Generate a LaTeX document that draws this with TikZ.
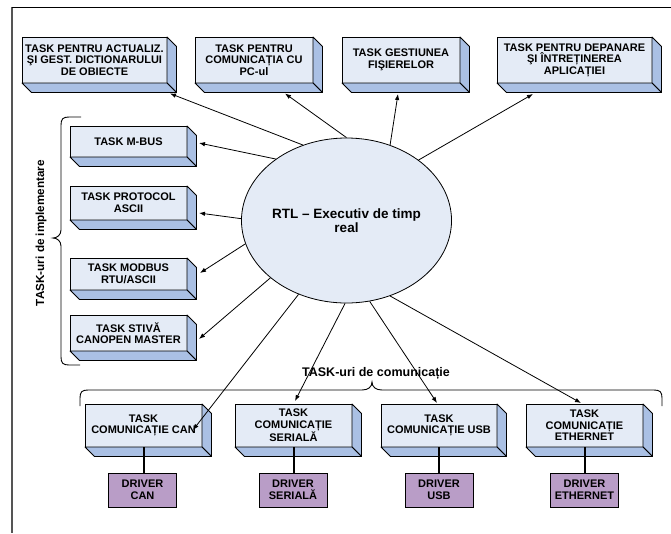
\documentclass[tikz,border=0pt]{standalone}
\usepackage{fontspec}
\setmainfont{Liberation Sans}
\usetikzlibrary{arrows.meta,shapes.geometric,calc}
\definecolor{frontc}{RGB}{228,235,246}
\definecolor{sidec}{RGB}{170,192,228}
\definecolor{drvc}{RGB}{185,157,199}
\definecolor{framec}{RGB}{85,85,85}
\tikzset{
  frontbox/.style={draw=black, fill=frontc, line width=0.8pt, inner sep=0pt, outer sep=0pt, align=center,
    font=\bfseries\fontsize{11}{11.6}\selectfont},
  sideface/.style={draw=black, fill=sidec, line width=0.8pt, line join=round},
  drvbox/.style={draw=black, fill=drvc, line width=0.6pt, inner sep=0pt, outer sep=0pt, align=center,
    minimum width=68pt, minimum height=34pt, font=\bfseries\fontsize{11}{11.6}\selectfont},
  arr/.style={line width=0.8pt, -{Latex[length=6pt,width=4.5pt]}},
  link/.style={line width=2pt},
  bracestyle/.style={line width=0.9pt},
  grouplabel/.style={font=\bfseries\fontsize{12.5}{13}\selectfont, inner sep=0pt}
}
\newcommand{\tdbox}[5]{%
  \node[frontbox, minimum width=#3pt, minimum height=#4pt] (#1) at (#2) {#5};
  \filldraw[sideface] (#1.north east) -- ++(9.5,9.5) -- ($(#1.south east)+(9.5,9.5)$) -- (#1.south east) -- cycle;
  \filldraw[sideface] (#1.south west) -- (#1.south east) -- ++(9.5,9.5) -- ($(#1.south west)+(9.5,9.5)$) -- cycle;
}
\begin{document}
\begin{tikzpicture}[x=1pt,y=-1pt]
\useasboundingbox (0,0) rectangle (671,533);
% frame
\draw[framec, line width=1.5pt] (12,7) -- (12,533);
\draw[black, line width=1pt] (12,7) -- (671,7);

% top boxes
\tdbox{b1}{94.5,60}{145}{46}{TASK PENTRU ACTUALIZ.\\ŞI GEST. DICTIONARULUI\\DE OBIECTE}
\tdbox{b2}{254,60}{118}{46}{TASK PENTRU\\COMUNICAȚIA CU\\PC-ul}
\tdbox{b3}{401,60}{118}{46}{TASK GESTIUNEA\\FIŞIERELOR}
\tdbox{b4}{574.5,60}{155}{46}{TASK PENTRU DEPANARE\\ŞI ÎNTREȚINEREA\\APLICAȚIEI}

% left boxes
\tdbox{m1}{128.5,141.5}{117}{31}{TASK M-BUS}
\tdbox{m2}{128.5,203}{117}{34}{TASK PROTOCOL\\ASCII}
\tdbox{m3}{128.5,274}{117}{32}{TASK MODBUS\\RTU/ASCII}
\tdbox{m4}{128.5,333}{117}{36}{TASK STIVĂ\\CANOPEN MASTER}

% bottom boxes
\tdbox{c1}{143.5,425.5}{117}{43}{TASK\\COMUNICAȚIE CAN}
\tdbox{c2}{293.5,425.5}{117}{43}{TASK\\COMUNICAȚIE\\SERIALĂ}
\tdbox{c3}{439,425.5}{116}{43}{TASK\\COMUNICAȚIE USB}
\tdbox{c4}{584.5,425.5}{117}{43}{TASK\\COMUNICAȚIE\\ETHERNET}

% drivers
\node[drvbox] (d1) at (142.5,490) {DRIVER\\CAN};
\node[drvbox] (d2) at (293,490) {DRIVER\\SERIALĂ};
\node[drvbox] (d3) at (439,490) {DRIVER\\USB};
\node[drvbox] (d4) at (584.5,490) {DRIVER\\ETHERNET};
\foreach \i in {1,...,4} {\draw[link] (c\i.south) -- (c\i.south |- d\i.north);}

% central ellipse
\node[ellipse, draw=black, fill=frontc, line width=0.8pt, minimum width=187pt, minimum height=165pt,
  inner sep=0pt, align=center, font=\bfseries\fontsize{13.5}{13.5}\selectfont] (rtl) at (346.5,220.5)
  {RTL – Executiv de timp\\real};

% arrow tips
\coordinate (tb1) at (170,93.5);
\coordinate (tb2) at (285,93.5);
\coordinate (tb3) at (398,94);
\coordinate (tb4) at (533,94);
\coordinate (tm1) at (199,143);
\coordinate (tm2) at (199,213);
\coordinate (tm3) at (200,273);
\coordinate (tm4) at (199,339);
\coordinate (tc1) at (193,430);
\coordinate (tc2) at (295,401);
\coordinate (tc3) at (437,403);
\coordinate (tc4) at (581,403);

\draw[arr] (rtl.120.9) -- (tb1);
\draw[arr] (rtl.90.3) -- (tb2);
\draw[arr] (rtl.60.3) -- (tb3);
\draw[arr] (rtl.40.1) -- (tb4);
\draw[arr] (rtl.139.5) -- (tm1);
\draw[arr] (rtl.179.7) -- (tm2);
\draw[arr] (rtl.193.2) -- (tm3);
\draw[arr] (rtl.217.8) -- (tm4);
\draw[arr] (rtl.237.3) -- (tc1);
\draw[arr] (rtl.269.7) -- (tc2);
\draw[arr] (rtl.286.1) -- (tc3);
\draw[arr] (rtl.300) -- (tc4);

% braces
\draw[bracestyle] (81,117) -- (69,117) .. controls (63,117) and (61,119) .. (61,125) -- (61,230)
  .. controls (61,235) and (57,238) .. (53,238) .. controls (57,238) and (61,241) .. (61,246)
  -- (61,357) .. controls (61,363) and (63,365) .. (69,365) -- (80,365);
\draw[bracestyle] (80,406) -- (80,398) .. controls (80,392) and (82,390) .. (88,390) -- (362,390)
  .. controls (368,390) and (372,387) .. (372,382) .. controls (372,387) and (376,390) .. (382,390)
  -- (654,390) .. controls (660,390) and (662,392) .. (662,398) -- (662,406);

% group labels
\node[grouplabel, font=\bfseries\fontsize{11.7}{12}\selectfont, rotate=90] (limpl) at (41,233) {TASK-uri de implementare};
\node[grouplabel] (lcom) at (376,373) {TASK-uri de comunicație};
\end{tikzpicture}
\end{document}
